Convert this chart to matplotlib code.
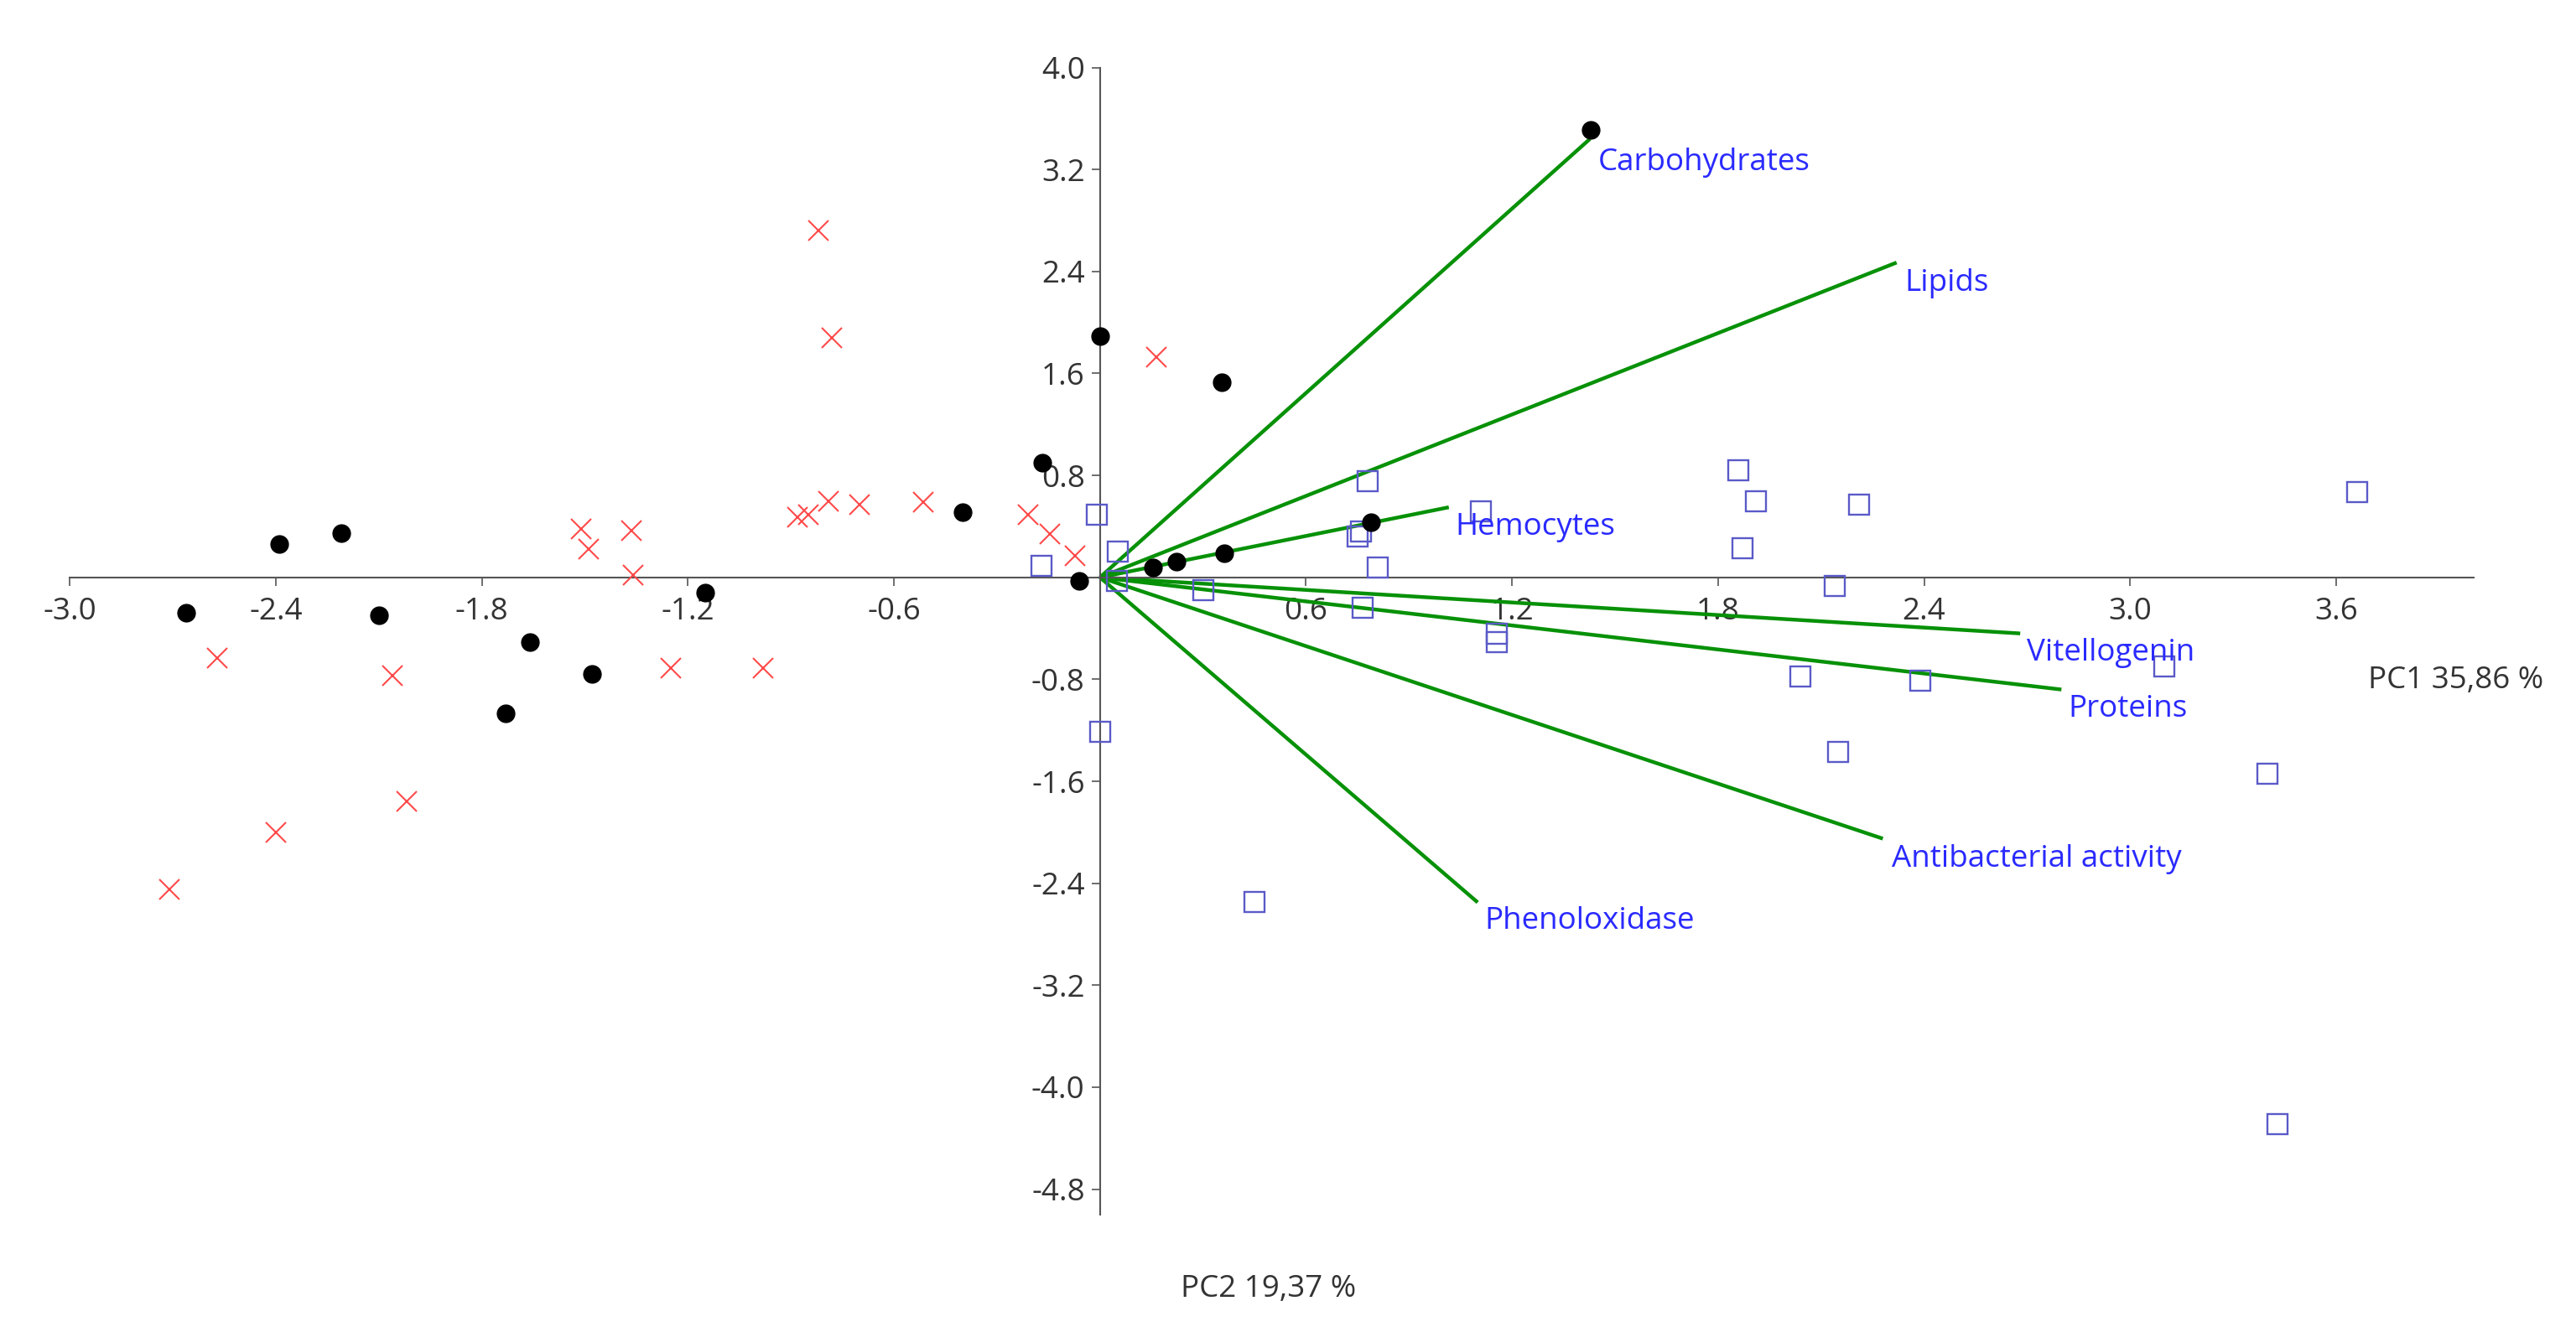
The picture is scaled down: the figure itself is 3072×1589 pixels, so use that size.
import numpy as np
import matplotlib
matplotlib.use('Agg')
import matplotlib.pyplot as plt

plt.rcParams['font.family'] = ['Open Sans', 'DejaVu Sans']

# PCA scores
black_x = [1.43, 0.0, 0.354, -0.168, -0.40, -2.21, -2.39, 0.789, 0.363, 0.224,
           0.155, -0.061, -1.15, -2.66, -2.10, -1.66, -1.48, -1.73]
black_y = [3.51, 1.89, 1.53, 0.90, 0.51, 0.35, 0.26, 0.43, 0.19, 0.124,
           0.076, -0.03, -0.12, -0.28, -0.30, -0.51, -0.76, -1.07]

red_x = [-0.82, -0.78, 0.165, -0.515, -0.70, -0.79, -0.85, -0.88, -0.21, -0.146, -0.073,
         -1.51, -1.49, -1.365, -1.36, -2.57, -2.06, -1.25, -0.98, -2.02, -2.40, -2.71]
red_y = [2.72, 1.88, 1.73, 0.59, 0.57, 0.60, 0.49, 0.47, 0.49, 0.34, 0.17,
         0.38, 0.22, 0.37, 0.02, -0.63, -0.77, -0.71, -0.71, -1.76, -2.0, -2.45]

blue_x = [-0.008, 0.053, -0.17, 0.049, 0.30, 0.78, 0.75, 0.76, 0.81, 1.11, 1.86, 1.91, 2.21,
          1.87, 3.66, 2.14, 0.765, 1.155, 1.155, 2.04, 2.39, 3.10, 2.15, 3.40, 3.43, 0.0, 0.45]
blue_y = [0.49, 0.20, 0.09, -0.03, -0.10, 0.755, 0.32, 0.36, 0.077, 0.52, 0.84, 0.60, 0.57,
          0.23, 0.67, -0.07, -0.24, -0.44, -0.51, -0.78, -0.81, -0.70, -1.37, -1.54, -4.29, -1.21, -2.55]

# loading vectors
var_names = ['Carbohydrates', 'Lipids', 'Hemocytes', 'Vitellogenin', 'Proteins',
             'Antibacterial activity', 'Phenoloxidase']
load_x = [1.427, 2.32, 1.016, 2.68, 2.80, 2.28, 1.10]
load_y = [3.44, 2.47, 0.55, -0.44, -0.88, -2.05, -2.55]
lab_x = [1.45, 2.343, 1.035, 2.70, 2.82, 2.307, 1.12]
lab_y = [3.195, 2.25, 0.336, -0.654, -1.095, -2.27, -2.76]

xticks = [-3.0, -2.4, -1.8, -1.2, -0.6, 0.6, 1.2, 1.8, 2.4, 3.0, 3.6]
yticks = [-4.8, -4.0, -3.2, -2.4, -1.6, -0.8, 0.8, 1.6, 2.4, 3.2, 4.0]

fig = plt.figure(figsize=(30.72, 15.89), dpi=100)
ax = fig.add_axes([0.0271, 0.0881, 0.9331, 0.8612])

for x, y in zip(load_x, load_y):
    ax.plot([0, x], [0, y], color='#079107', lw=3.2, zorder=2, solid_capstyle='butt')
for name, x, y in zip(var_names, lab_x, lab_y):
    ax.text(x, y, name, color='#2a2aff', fontsize=26.5, ha='left', va='baseline', zorder=5)

ax.plot(blue_x, blue_y, 's', ms=17, mfc='none', mec='#5a5ac8', mew=1.7, ls='none', zorder=3)
ax.plot(red_x, red_y, 'x', ms=17, color='#ff4a4a', mew=1.5, ls='none', zorder=3)
ax.plot(black_x, black_y, 'o', ms=15, color='black', ls='none', zorder=4)

ax.set_xlim(-3.0, 4.0)
ax.set_ylim(-5.0, 4.0)

for s in ['top', 'right']:
    ax.spines[s].set_visible(False)
ax.spines['left'].set_position(('data', 0))
ax.spines['bottom'].set_position(('data', 0))
for s in ['left', 'bottom']:
    ax.spines[s].set_color('#555555')
    ax.spines[s].set_linewidth(1.5)

ax.set_xticks(xticks)
ax.set_yticks(yticks)
ax.set_xticklabels(['%.1f' % v for v in xticks])
ax.set_yticklabels(['%.1f' % v for v in yticks])
ax.tick_params(axis='both', direction='out', length=7, width=1.2, color='#555555',
               labelsize=26.5, labelcolor='#333333', pad=6)
ax.tick_params(axis='x', pad=10)

ax.text(0.956, 0.459, 'PC1 35,86 %', transform=ax.transAxes, fontsize=26.5,
        color='#333333', ha='left', va='baseline', clip_on=False)
ax.text(0.462, -0.0716, 'PC2 19,37 %', transform=ax.transAxes, fontsize=26.5,
        color='#333333', ha='left', va='baseline', clip_on=False)

fig.savefig('out.png', dpi=100)
